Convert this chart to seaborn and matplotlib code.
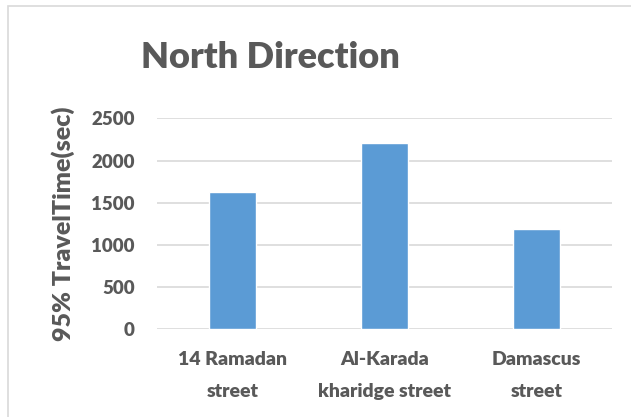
import matplotlib
matplotlib.use('Agg')
import matplotlib.pyplot as plt
import seaborn as sns
from matplotlib.patches import Rectangle

# 데이터
streets = ['14 Ramadan\nstreet', 'Al-Karada\nkharidge street', 'Damascus\nstreet']
travel_time = [1625, 2210, 1190]
y_ticks = [0, 500, 1000, 1500, 2000, 2500]

sns.set_style('white')
plt.rcParams['font.family'] = ['Lato', 'DejaVu Sans']

text_color = '#595959'
weight = 'heavy'

fig = plt.figure(figsize=(6.31, 4.17), dpi=100)
ax = fig.add_axes([0.249, 0.211, 0.721, 0.505])

sns.barplot(x=streets, y=travel_time, color='#5B9BD5', saturation=1,
            width=0.31, ax=ax, zorder=3)

ax.set_ylim(0, 2500)
ax.set_xlim(-0.5, 2.5)
ax.set_yticks(y_ticks)
ax.set_yticklabels([str(t) for t in y_ticks], fontsize=13.5, fontweight=weight,
                   color=text_color)
ax.set_xticks(range(len(streets)))
ax.set_xticklabels(streets, fontsize=14, fontweight=weight, color=text_color,
                   linespacing=2.05)
ax.tick_params(axis='y', length=0, pad=16)
ax.tick_params(axis='x', length=0, pad=16)
ax.grid(axis='y', color='#D9D9D9', linewidth=1.2, zorder=0)
sns.despine(ax=ax, left=True, bottom=True, top=True, right=True)

ax.set_ylabel('95% TravelTime(sec)', fontsize=18, fontweight=weight,
              color=text_color, labelpad=12)

# 제목
fig.text(270 / 631, 1 - 57 / 417, 'North Direction', ha='center', va='center',
         fontsize=26, fontweight=weight, color=text_color)

# 차트 테두리
fig.patches.append(Rectangle((8 / 631, -0.05), 1.0, 1 - 6 / 417 + 0.05,
                             transform=fig.transFigure, fill=False,
                             edgecolor='#D9D9D9', linewidth=1.2))

fig.savefig('out.png', dpi=100)
